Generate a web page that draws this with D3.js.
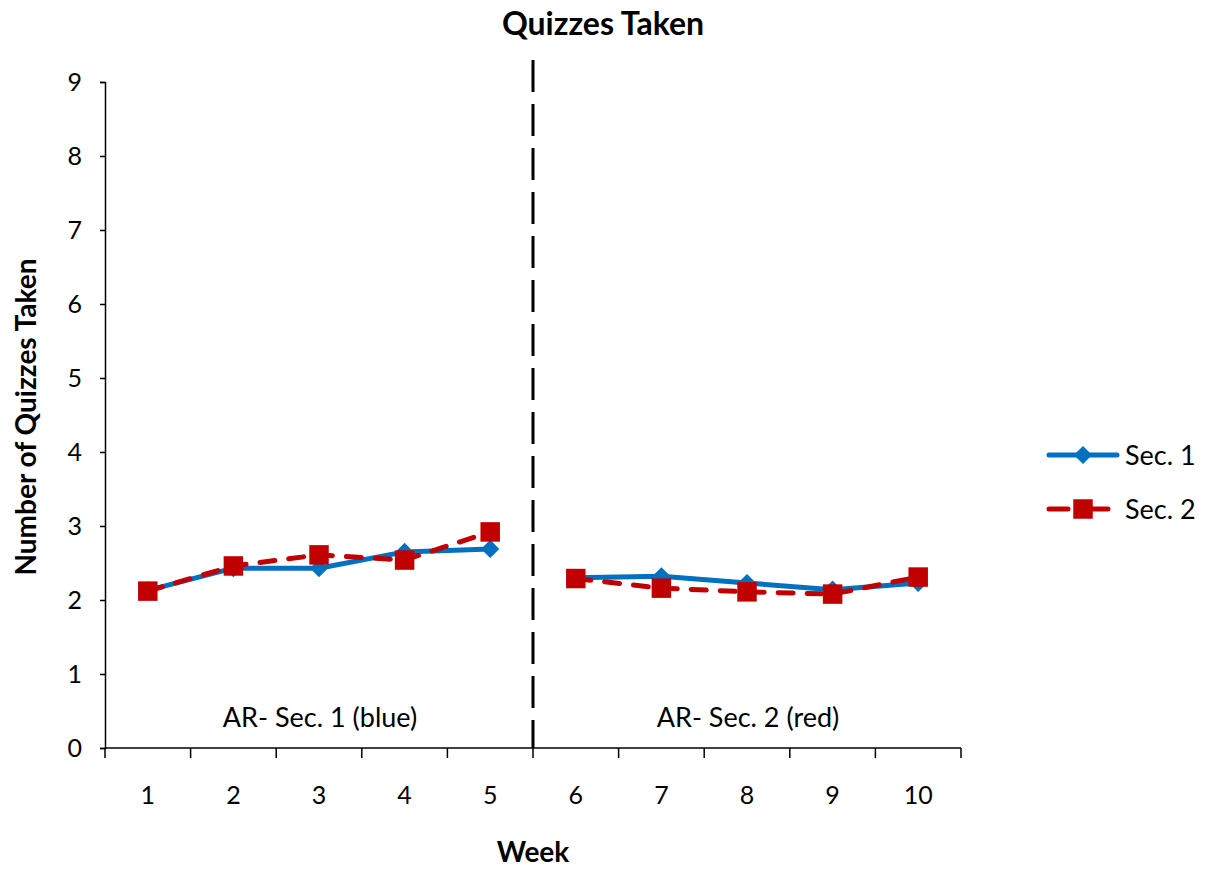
<!DOCTYPE html>
<html>
<head>
<meta charset="utf-8">
<script src="https://cdn.jsdelivr.net/npm/d3@7"></script>
<style>
  html, body { margin: 0; padding: 0; background: #fff; }
  svg text { font-family: Lato, "Open Sans", sans-serif; fill: #000; }
</style>
</head>
<body>
<svg id="chart" width="1208" height="869"></svg>
<script>
// Weekly quiz counts for the two sections
const weeks = [1, 2, 3, 4, 5, 6, 7, 8, 9, 10];
const sec1 = [2.13, 2.43, 2.43, 2.65, 2.69, 2.30, 2.32, 2.23, 2.14, 2.23];
const sec2 = [2.12, 2.46, 2.61, 2.54, 2.92, 2.29, 2.16, 2.11, 2.08, 2.31];
const yTicks = [0, 1, 2, 3, 4, 5, 6, 7, 8, 9];
const phaseLabels = ["AR- Sec. 1 (blue)", "AR- Sec. 2 (red)"];
const seriesNames = ["Sec. 1", "Sec. 2"];
const phaseBreak = 6; // first week of the second phase

const BLUE = "#0070C0", RED = "#C00000";
const FONT = "Lato, 'Open Sans', sans-serif";
const svg = d3.select("#chart");
const plot = { left: 105, right: 961, top: 82, bottom: 748 };

const x = d3.scaleBand().domain(weeks).range([plot.left, plot.right]).padding(0);
const y = d3.scaleLinear().domain([0, 9]).range([plot.bottom, plot.top]);

// Y axis
const yAxis = svg.append("g")
  .attr("transform", `translate(${plot.left},0)`)
  .call(d3.axisLeft(y).tickValues(yTicks).tickSize(5).tickPadding(18).tickFormat(d3.format("d")));
yAxis.select(".domain").attr("stroke", "#000").attr("stroke-width", 1.5);
yAxis.selectAll(".tick line").attr("stroke", "#000").attr("stroke-width", 1.5);
yAxis.selectAll("text").style("font-size", "25px").style("font-family", FONT);

// X axis: ticks on category boundaries, labels centred in each band
const boundaries = d3.range(0, weeks.length + 1).map(i => plot.left + i * x.bandwidth());
const xg = svg.append("g");
xg.append("line")
  .attr("x1", plot.left).attr("x2", plot.right)
  .attr("y1", plot.bottom).attr("y2", plot.bottom)
  .attr("stroke", "#000").attr("stroke-width", 1.5);
xg.selectAll("line.tk").data(boundaries).join("line")
  .attr("class", "tk")
  .attr("x1", d => d).attr("x2", d => d)
  .attr("y1", plot.bottom).attr("y2", plot.bottom + 10)
  .attr("stroke", "#000").attr("stroke-width", 1.5);
xg.selectAll("text").data(weeks).join("text")
  .attr("x", d => x(d) + x.bandwidth() / 2)
  .attr("y", 804)
  .attr("text-anchor", "middle")
  .style("font-size", "25px")
  .text(d => d);

// Phase-change line between the two phases
const splitX = x(phaseBreak);
svg.append("line")
  .attr("x1", splitX).attr("x2", splitX)
  .attr("y1", 60).attr("y2", plot.bottom)
  .attr("stroke", "#000").attr("stroke-width", 3)
  .attr("stroke-dasharray", "32,12");

// Phase labels
svg.append("text").attr("x", (plot.left + splitX) / 2 + 1).attr("y", 727)
  .attr("text-anchor", "middle").style("font-size", "27px").text(phaseLabels[0]);
svg.append("text").attr("x", (splitX + plot.right) / 2 + 1).attr("y", 727)
  .attr("text-anchor", "middle").style("font-size", "27px").text(phaseLabels[1]);

const cx = d => x(d) + x.bandwidth() / 2;
const line = d3.line().x(d => cx(d[0])).y(d => y(d[1]));
const s1 = weeks.map((w, i) => [w, sec1[i]]);
const s2 = weeks.map((w, i) => [w, sec2[i]]);
// Lines are not joined across the phase change
const split = s => [s.filter(d => d[0] < phaseBreak), s.filter(d => d[0] >= phaseBreak)];

const square = d3.symbol().type(d3.symbolSquare).size(380);
const diamond = d3.symbol().type(d3.symbolSquare).size(165);

// Sec. 1 series
svg.selectAll("path.l1").data(split(s1)).join("path").attr("class", "l1")
  .attr("d", line)
  .attr("fill", "none").attr("stroke", BLUE).attr("stroke-width", 5)
  .attr("stroke-linejoin", "round").attr("stroke-linecap", "round");
svg.selectAll("path.m1").data(s1).join("path").attr("class", "m1")
  .attr("d", diamond)
  .attr("transform", d => `translate(${cx(d[0])},${y(d[1])}) rotate(45)`)
  .attr("fill", BLUE);

// Sec. 2 series
svg.selectAll("path.l2").data(split(s2)).join("path").attr("class", "l2")
  .attr("d", line)
  .attr("fill", "none").attr("stroke", RED).attr("stroke-width", 5)
  .attr("stroke-dasharray", "15,14").attr("stroke-linecap", "round");
svg.selectAll("path.m2").data(s2).join("path").attr("class", "m2")
  .attr("d", square)
  .attr("transform", d => `translate(${cx(d[0])},${y(d[1])})`)
  .attr("fill", RED);

// Legend
const legend = svg.append("g");
const lg = [
  { name: seriesNames[0], color: BLUE, y: 455, dash: null, sym: "d" },
  { name: seriesNames[1], color: RED, y: 509, dash: "19,20,20", sym: "s" }
];
lg.forEach(l => {
  legend.append("line").attr("x1", 1049).attr("x2", l.dash ? 1108 : 1117).attr("y1", l.y).attr("y2", l.y)
    .attr("stroke", l.color).attr("stroke-width", 5).attr("stroke-linecap", "round")
    .attr("stroke-dasharray", l.dash);
  if (l.sym === "d") {
    legend.append("path").attr("d", diamond)
      .attr("transform", `translate(1083,${l.y}) rotate(45)`).attr("fill", l.color);
  } else {
    legend.append("path").attr("d", square)
      .attr("transform", `translate(1083,${l.y})`).attr("fill", l.color);
  }
  legend.append("text").attr("x", 1125).attr("y", l.y + 10)
    .style("font-size", "27px").text(l.name);
});

// Titles
svg.append("text").attr("x", 603).attr("y", 35).attr("text-anchor", "middle")
  .style("font-size", "32px").style("font-weight", "bold").text("Quizzes Taken");
svg.append("text").attr("x", 533).attr("y", 862).attr("text-anchor", "middle")
  .style("font-size", "28px").style("font-weight", "bold").text("Week");
svg.append("text").attr("transform", "translate(36,417) rotate(-90)").attr("text-anchor", "middle")
  .style("font-size", "28px").style("font-weight", "bold").text("Number of Quizzes Taken");
</script>
</body>
</html>
